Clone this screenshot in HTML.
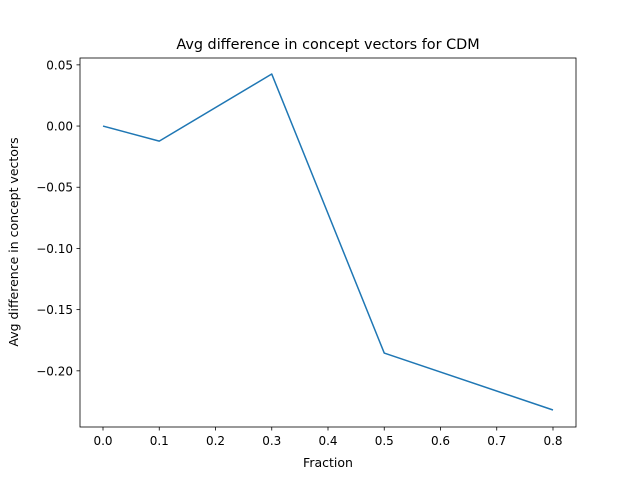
<!DOCTYPE html>
<html><head><meta charset="utf-8"><style>body{margin:0;background:#fff}svg{display:block;font-family:"DejaVu Sans","Liberation Sans",sans-serif}</style></head>
<body>
<svg id="chart" width="640" height="480" viewBox="0 0 640 480" xmlns="http://www.w3.org/2000/svg">
<rect width="640" height="480" fill="#fff"/>
<text x="328" y="49" font-size="14.4" text-anchor="middle">Avg difference in concept vectors for CDM</text>
<text x="328" y="467" font-size="12.5" text-anchor="middle">Fraction</text>
<text transform="translate(18,242) rotate(-90)" font-size="12.5" text-anchor="middle">Avg difference in concept vectors</text>
<g id="plot"></g>
</svg>
<script>
const fractions = [0.0, 0.1, 0.3, 0.5, 0.8];
const avgDiff = [0.0, -0.0123, 0.0425, -0.1855, -0.232];
const xTicks = [0.0, 0.1, 0.2, 0.3, 0.4, 0.5, 0.6, 0.7, 0.8];
const yTicks = [0.05, 0.00, -0.05, -0.10, -0.15, -0.20];

const L=80,R=576,T=58,B=427;
const xMin=-0.0409,xMax=0.8409,yMin=-0.2459,yMax=0.0556;
const xs=v=>L+(v-xMin)/(xMax-xMin)*(R-L);
const ys=v=>B-(v-yMin)/(yMax-yMin)*(B-T);
const NS="http://www.w3.org/2000/svg";
const g=document.getElementById('plot');
function mk(tag,attrs){const e=document.createElementNS(NS,tag);for(const k in attrs)e.setAttribute(k,attrs[k]);g.appendChild(e);return e;}

xTicks.forEach(v=>{
  const x=xs(v);
  const t=mk('line',{x1:x,x2:x,y1:B,y2:B+3.5,stroke:'#000','stroke-width':0.8});
  
  
  const l=mk('text',{x:x,y:B+18,'font-size':12,'text-anchor':'middle'});
  
  
  l.textContent=v.toFixed(1);
});
yTicks.forEach(v=>{
  const y=ys(v);
  const t=mk('line',{x1:L-3.5,x2:L,y1:y,y2:y,stroke:'#000','stroke-width':0.8});
  
  
  const l=mk('text',{x:L-7,y:y+4.5,'font-size':12,'text-anchor':'end'});
  
  
  l.textContent=(v<0?'\u2212':'')+Math.abs(v).toFixed(2);
});
const pts=fractions.map((f,i)=>xs(f)+','+ys(avgDiff[i])).join(' ');
const line=mk('polyline',{points:pts,fill:'none',stroke:'#1f77b4','stroke-width':1.5,'stroke-linejoin':'round'});


const frame=mk('rect',{x:L,y:T,width:R-L,height:B-T,fill:'none',stroke:'#000','stroke-width':0.8});


</script>
</body></html>
